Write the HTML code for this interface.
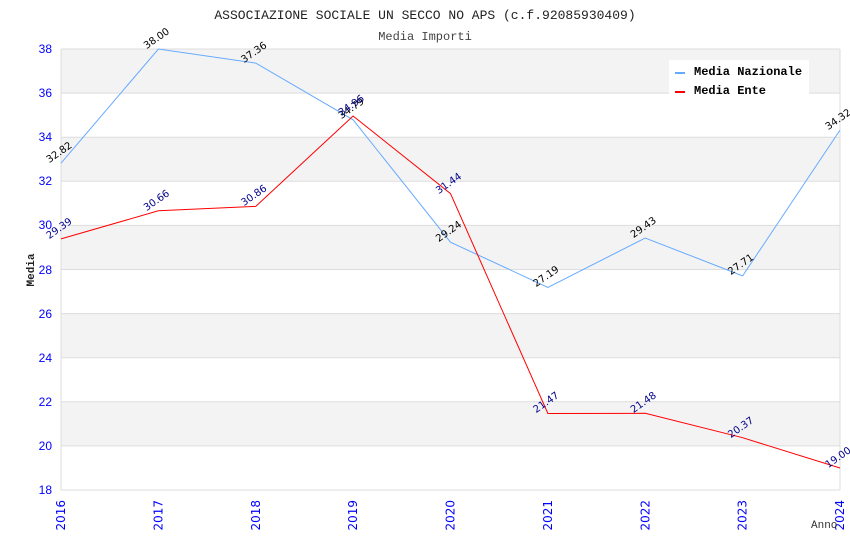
<!DOCTYPE html><html><head><style>body{margin:0;background:#fff}</style></head><body>
<svg width="850" height="550" xmlns="http://www.w3.org/2000/svg" font-family="Liberation Mono, DejaVu Sans Mono, monospace">
<text x="425" y="19" text-anchor="middle" font-size="13" fill="#222">ASSOCIAZIONE SOCIALE UN SECCO NO APS (c.f.92085930409)</text>
<text x="425" y="40" text-anchor="middle" font-size="12" fill="#444">Media Importi</text>
<g fill="#f3f3f3">
<rect x="61" y="49" width="779" height="44.1"/><rect x="61" y="137.2" width="779" height="44.1"/><rect x="61" y="225.4" width="779" height="44.1"/><rect x="61" y="313.6" width="779" height="44.1"/><rect x="61" y="401.8" width="779" height="44.1"/></g>
<g stroke="#ddd" stroke-width="1">
<line x1="61" x2="840" y1="49" y2="49"/><line x1="61" x2="840" y1="93.1" y2="93.1"/><line x1="61" x2="840" y1="137.2" y2="137.2"/><line x1="61" x2="840" y1="181.3" y2="181.3"/><line x1="61" x2="840" y1="225.4" y2="225.4"/><line x1="61" x2="840" y1="269.5" y2="269.5"/><line x1="61" x2="840" y1="313.6" y2="313.6"/><line x1="61" x2="840" y1="357.7" y2="357.7"/><line x1="61" x2="840" y1="401.8" y2="401.8"/><line x1="61" x2="840" y1="445.9" y2="445.9"/><line x1="61" x2="840" y1="490" y2="490"/>
<line x1="61" x2="61" y1="49" y2="490"/><line x1="840" x2="840" y1="49" y2="490"/></g>
<g fill="#00f" font-size="12" text-anchor="end" font-family="Liberation Sans, sans-serif">
<text x="52" y="53">38</text><text x="52" y="97">36</text><text x="52" y="141">34</text><text x="52" y="185">32</text><text x="52" y="229">30</text><text x="52" y="274">28</text><text x="52" y="318">26</text><text x="52" y="362">24</text><text x="52" y="406">22</text><text x="52" y="450">20</text><text x="52" y="494">18</text></g>
<g fill="#00f" font-size="12" text-anchor="end" font-family="DejaVu Sans, sans-serif">
<text transform="translate(65,500) rotate(-90)">2016</text><text transform="translate(162.4,500) rotate(-90)">2017</text><text transform="translate(259.8,500) rotate(-90)">2018</text><text transform="translate(357.1,500) rotate(-90)">2019</text><text transform="translate(454.5,500) rotate(-90)">2020</text><text transform="translate(551.9,500) rotate(-90)">2021</text><text transform="translate(649.3,500) rotate(-90)">2022</text><text transform="translate(746.6,500) rotate(-90)">2023</text><text transform="translate(844,500) rotate(-90)">2024</text></g>
<text x="811" y="528" font-size="11" fill="#333">Anno</text>
<text transform="translate(34,270) rotate(-90)" text-anchor="middle" font-size="11" font-weight="bold" fill="#222">Media</text>
<polyline fill="none" stroke="#6af" stroke-width="1" points="61,163.2 158.4,49 255.75,63.1 353.1,119.8 450.5,242.2 547.9,287.4 645.25,238 742.6,275.9 840,130.1"/>
<polyline fill="none" stroke="#f00" stroke-width="1" points="61,238.9 158.4,210.8 255.75,206.4 353.1,116 450.5,193.6 547.9,413.5 645.25,413.3 742.6,437.7 840,468"/>
<g font-size="10" text-anchor="middle" font-family="DejaVu Sans, sans-serif" fill="#000">
<text transform="translate(61,155) rotate(-35)">32.82</text><text transform="translate(158.4,41) rotate(-35)">38.00</text><text transform="translate(255.75,55) rotate(-35)">37.36</text><text transform="translate(353.1,111) rotate(-35)">34.79</text><text transform="translate(450.5,234) rotate(-35)">29.24</text><text transform="translate(547.9,279) rotate(-35)">27.19</text><text transform="translate(645.25,230) rotate(-35)">29.43</text><text transform="translate(742.6,267) rotate(-35)">27.71</text><text transform="translate(840,122) rotate(-35)">34.32</text></g>
<g font-size="10" text-anchor="middle" font-family="DejaVu Sans, sans-serif" fill="#00008b">
<text transform="translate(61,231) rotate(-35)">29.39</text><text transform="translate(158.4,203) rotate(-35)">30.66</text><text transform="translate(255.75,198) rotate(-35)">30.86</text><text transform="translate(353.1,108) rotate(-35)">34.96</text><text transform="translate(450.5,186) rotate(-35)">31.44</text><text transform="translate(547.9,405) rotate(-35)">21.47</text><text transform="translate(645.25,405) rotate(-35)">21.48</text><text transform="translate(742.6,430) rotate(-35)">20.37</text><text transform="translate(840,460) rotate(-35)">19.00</text></g>
<rect x="669" y="60" width="140" height="38" fill="#fff"/>
<rect x="675" y="72" width="10" height="2" fill="#6af"/><rect x="675" y="91" width="10" height="2" fill="#f00"/>
<g font-size="12" font-weight="bold" fill="#000"><text x="694" y="75">Media Nazionale</text><text x="694" y="94">Media Ente</text></g>
</svg></body></html>
